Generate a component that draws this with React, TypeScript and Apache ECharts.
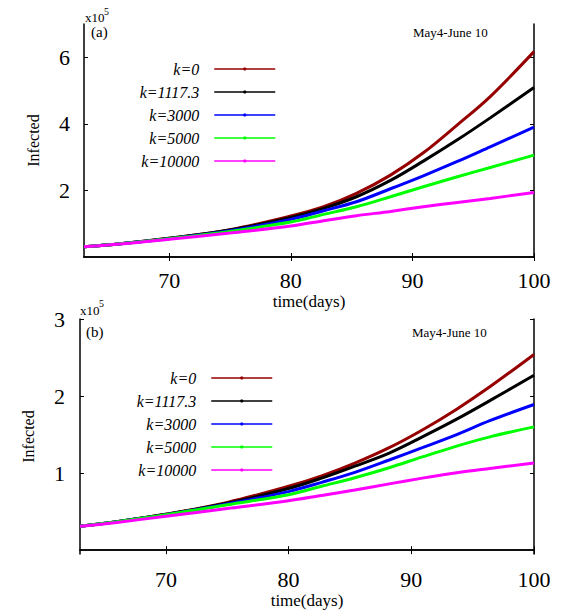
import React, { useEffect, useRef } from "react";
import * as echarts from "echarts";

const days = [63, 66, 70, 75, 80, 82.7, 85.4, 88.2, 90.9, 93.7, 96.4, 100];

// Panel (a) — Infected, in units of 10^5
const aK0 = [0.31, 0.40, 0.56, 0.82, 1.23, 1.51, 1.91, 2.46, 3.13, 3.97, 4.82, 6.17];
const aK1117 = [0.31, 0.40, 0.56, 0.81, 1.19, 1.46, 1.81, 2.30, 2.88, 3.52, 4.18, 5.09];
const aK3000 = [0.31, 0.40, 0.55, 0.79, 1.13, 1.39, 1.66, 2.05, 2.44, 2.87, 3.31, 3.90];
const aK5000 = [0.31, 0.40, 0.55, 0.77, 1.05, 1.28, 1.51, 1.81, 2.11, 2.41, 2.69, 3.06];
const aK10000 = [0.31, 0.39, 0.53, 0.72, 0.93, 1.09, 1.24, 1.37, 1.51, 1.64, 1.76, 1.94];

// Panel (b) — Infected, in units of 10^5
const bK0 = [0.31, 0.37, 0.465, 0.62, 0.83, 0.965, 1.13, 1.33, 1.56, 1.83, 2.12, 2.54];
const bK1117 = [0.31, 0.37, 0.465, 0.61, 0.80, 0.935, 1.09, 1.26, 1.47, 1.70, 1.94, 2.27];
const bK3000 = [0.31, 0.37, 0.46, 0.60, 0.76, 0.88, 1.01, 1.17, 1.33, 1.50, 1.68, 1.89];
const bK5000 = [0.31, 0.37, 0.46, 0.59, 0.72, 0.83, 0.94, 1.07, 1.21, 1.35, 1.47, 1.60];
const bK10000 = [0.31, 0.36, 0.44, 0.54, 0.64, 0.71, 0.78, 0.86, 0.935, 1.005, 1.06, 1.13];

const seriesNames = ["k=0", "k=1117.3", "k=3000", "k=5000", "k=10000"];
const colors = ["#960000", "#000000", "#0000ff", "#00ff00", "#ff00ff"];
const xTicks = [70, 80, 90, 100];
const aYTicks = [2, 4, 6];
const bYTicks = [1, 2, 3];

const SERIF = "Liberation Serif, DejaVu Serif, serif";

function pair(vals: number[]) {
  return days.map((d, i) => [d, vals[i]]);
}

export default function App() {
  const ref = useRef<HTMLDivElement>(null);
  useEffect(() => {
    if (!ref.current) return;
    const chart = echarts.init(ref.current, undefined, { renderer: "svg" });
    const axisLine = { show: true, lineStyle: { color: "#000", width: 1.5 } };
    const tick = (vals: number[]) => ({
      show: true,
      inside: true,
      length: 4,
      customValues: vals,
      lineStyle: { color: "#000", width: 1 },
    });
    const xLabel = {
      show: true,
      customValues: xTicks,
      fontFamily: SERIF,
      fontSize: 22,
      color: "#000",
    };
    const mkX = (grid: number, nameGap: number, margin: number) => [
      {
        type: "value",
        gridIndex: grid,
        min: 63,
        max: 100,
        position: "bottom",
        axisLine,
        axisTick: tick(xTicks),
        axisLabel: { ...xLabel, margin },
        splitLine: { show: false },
        name: "time(days)",
        nameLocation: "middle",
        nameGap,
        nameTextStyle: { fontFamily: SERIF, fontSize: 17, color: "#000" },
      },
      {
        type: "value",
        gridIndex: grid,
        min: 63,
        max: 100,
        position: "top",
        axisLine,
        axisTick: tick(xTicks),
        axisLabel: { show: false },
        splitLine: { show: false },
      },
    ];
    const mkY = (grid: number, min: number, max: number, ticks: number[], nameGap: number, margin: number) => [
      {
        type: "value",
        gridIndex: grid,
        min,
        max,
        position: "left",
        axisLine,
        axisTick: tick(ticks),
        axisLabel: {
          show: true,
          customValues: ticks,
          fontFamily: SERIF,
          fontSize: 22,
          color: "#000",
          margin,
        },
        splitLine: { show: false },
        name: "Infected",
        nameLocation: "middle",
        nameGap,
        nameRotate: 90,
        nameTextStyle: { fontFamily: SERIF, fontSize: 16, color: "#000" },
      },
      {
        type: "value",
        gridIndex: grid,
        min,
        max,
        position: "right",
        axisLine,
        axisTick: tick(ticks),
        axisLabel: { show: false },
        splitLine: { show: false },
      },
    ];
    const aData = [aK0, aK1117, aK3000, aK5000, aK10000];
    const bData = [bK0, bK1117, bK3000, bK5000, bK10000];
    const mkSeries = (data: number[][], xi: number, yi: number) =>
      data.map((vals, i) => ({
        type: "line",
        name: seriesNames[i],
        xAxisIndex: xi,
        yAxisIndex: yi,
        data: pair(vals),
        smooth: 0.35,
        showSymbol: false,
        symbol: "circle",
        color: colors[i],
        lineStyle: { width: 3, color: colors[i] },
        z: 2 + i,
      }));
    const mkLegend = (right: number, top: number) => ({
      orient: "vertical",
      align: "right",
      right,
      top,
      padding: 0,
      itemGap: 7,
      itemWidth: 61,
      itemHeight: 4,
      data: seriesNames,
      selectedMode: false,
      lineStyle: { width: 1.5 },
      textStyle: {
        fontFamily: SERIF,
        fontStyle: "italic",
        fontSize: 16,
        lineHeight: 16,
        color: "#000",
        padding: [0, 10, 0, 0],
      },
    });
    const txt = (text: string, x: number, y: number, size: number) => ({
      type: "text",
      x,
      y,
      style: {
        text,
        fontFamily: SERIF,
        fontSize: size,
        fill: "#000",
        verticalAlign: "middle",
        align: "left",
      },
    });
    chart.setOption({
      animation: false,
      backgroundColor: "#fff",
      grid: [
        { left: 84, top: 24, width: 450, height: 233 },
        { left: 80, top: 319, width: 454, height: 235 },
      ],
      xAxis: [...mkX(0, 36, 12), ...mkX(1, 38, 14)],
      yAxis: [...mkY(0, 0, 7, aYTicks, 43, 14), ...mkY(1, -0.05, 3, bYTicks, 44, 15)],
      legend: [mkLegend(305, 61), mkLegend(308, 370)],
      series: [...mkSeries(aData, 0, 0), ...mkSeries(bData, 2, 2)],
      graphic: [
        txt("x10", 85, 17.5, 13),
        txt("5", 104, 11, 10),
        txt("(a)", 91, 31.5, 15),
        txt("May4-June 10", 413, 32, 13),
        txt("x10", 80, 310, 13),
        txt("5", 99, 303, 10),
        txt("(b)", 86, 331.5, 15),
        txt("May4-June 10", 412, 332, 13),
      ],
    });
    return () => chart.dispose();
  }, []);
  return (
    <div
      ref={ref}
      style={{ position: "fixed", left: 0, top: 0, width: 581, height: 615, background: "#fff" }}
    />
  );
}
